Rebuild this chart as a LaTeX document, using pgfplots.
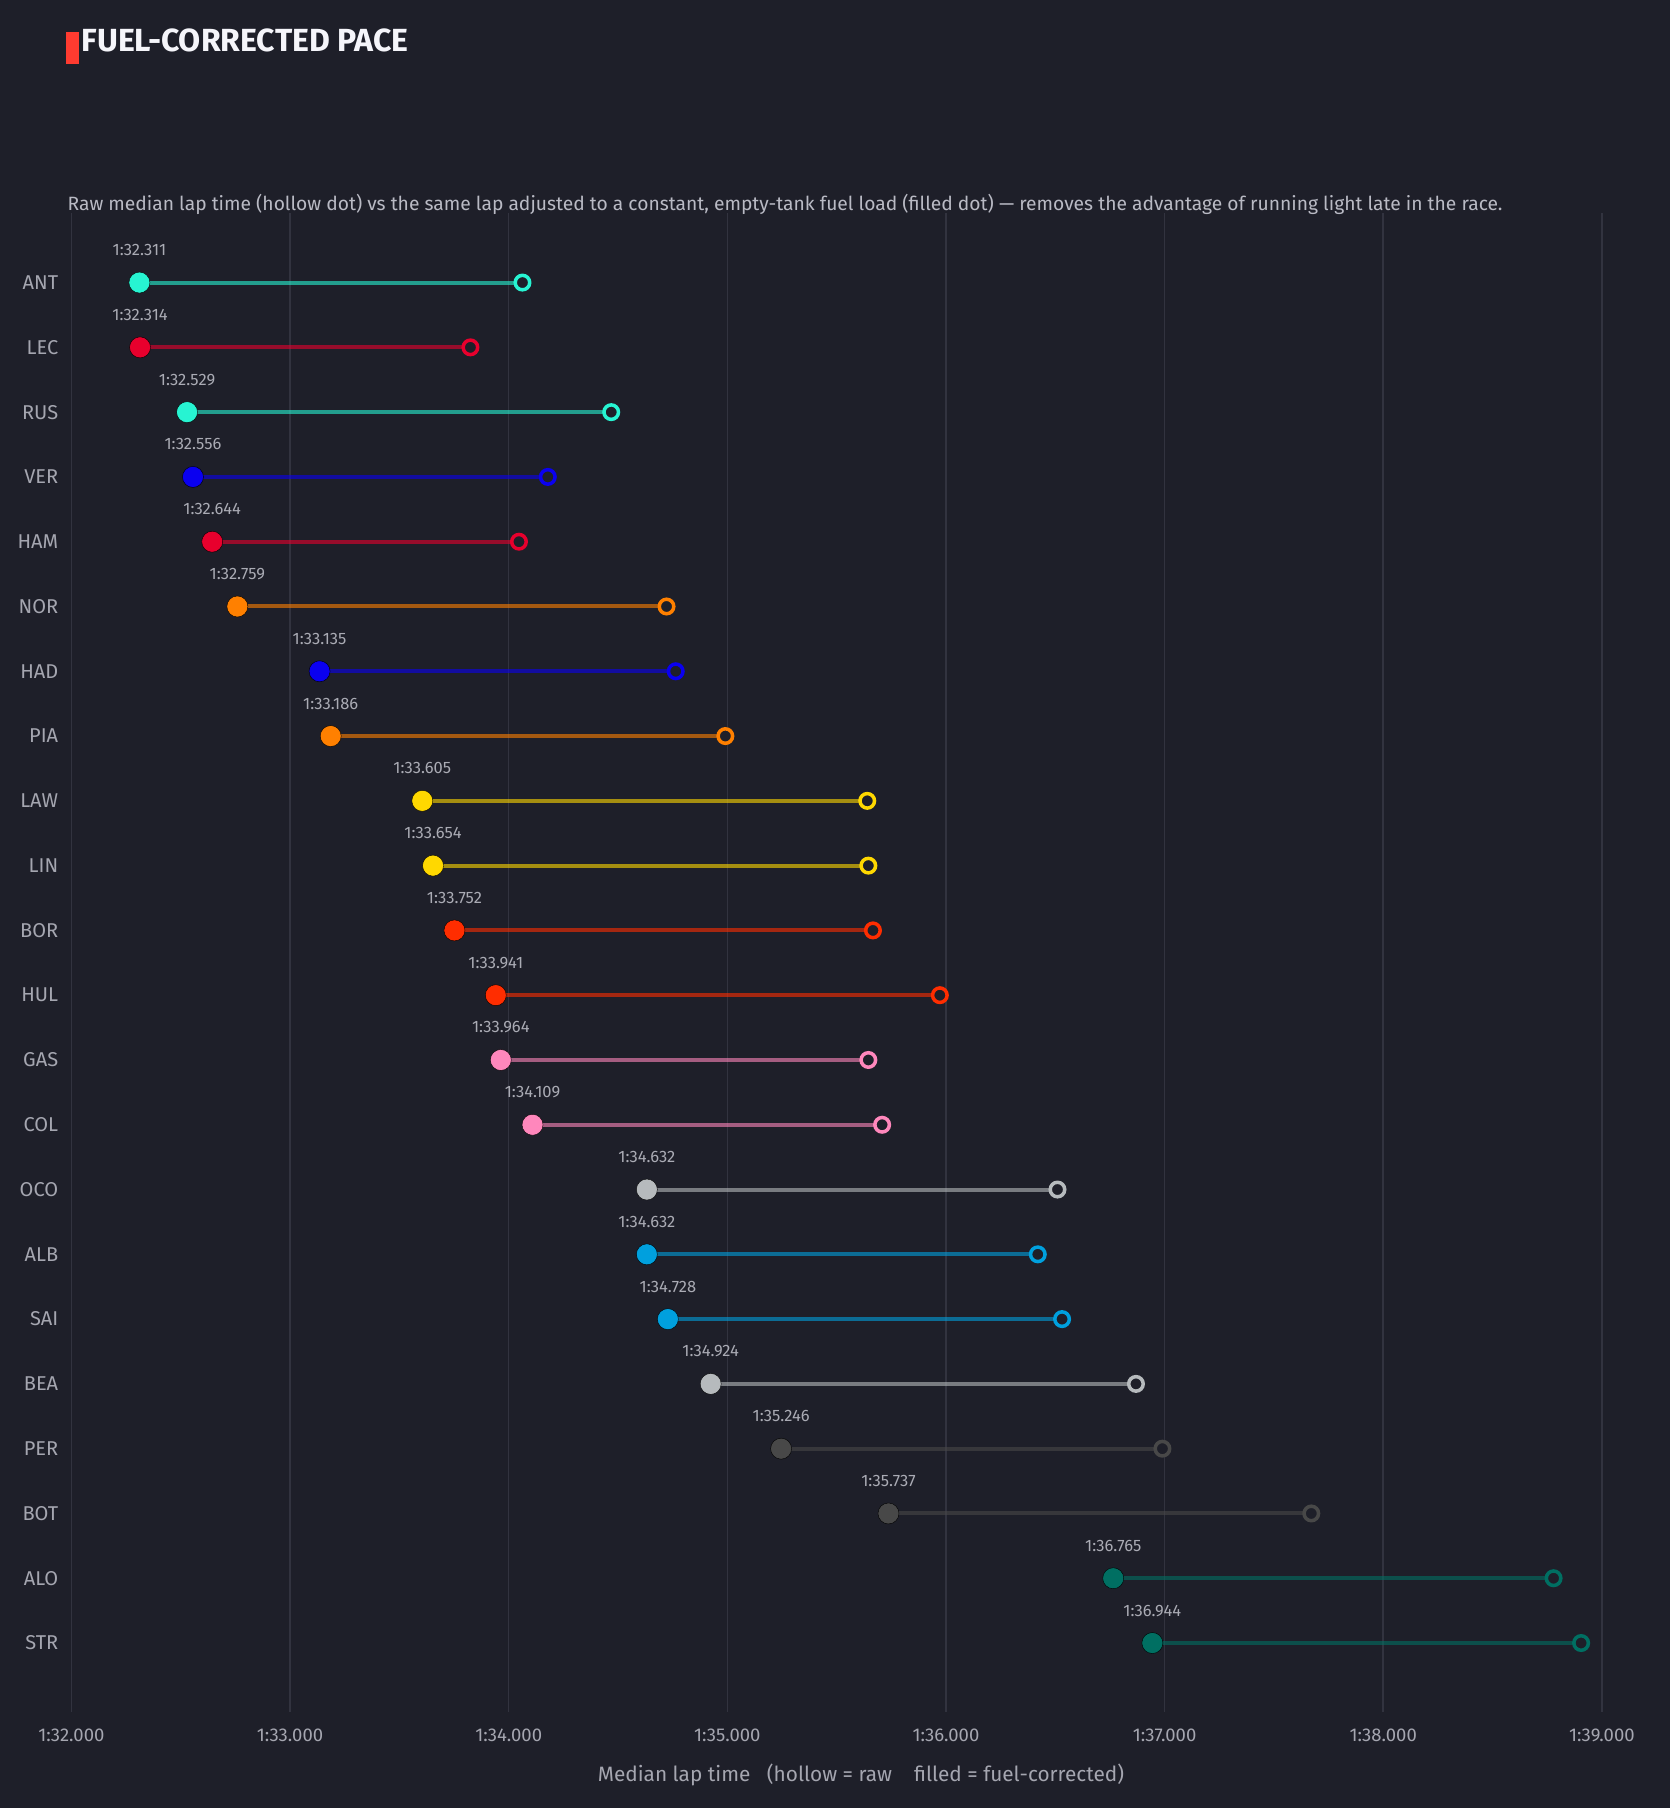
\documentclass[border=0pt]{standalone}
\usepackage{fontspec}
\setmainfont{Fira Sans}
\usepackage{pgfplots}
\pgfplotsset{compat=1.18}

\definecolor{bgc}{RGB}{30,31,41}
\definecolor{gridc}{RGB}{50,51,63}
\definecolor{tickc}{RGB}{165,166,176}
\definecolor{subc}{RGB}{185,186,196}
\definecolor{valc}{RGB}{170,171,180}
\definecolor{titlec}{RGB}{245,245,250}
\definecolor{barc}{RGB}{255,59,48}

% team colours
\definecolor{merc}{HTML}{27F4D2}
\definecolor{ferrari}{HTML}{E8002D}
\definecolor{rbblue}{HTML}{0A00F0}
\definecolor{mcl}{HTML}{FF8000}
\definecolor{rbyellow}{HTML}{FFD800}
\definecolor{sauber}{HTML}{FF2D00}
\definecolor{alpine}{HTML}{FF87BC}
\definecolor{haas}{HTML}{B6BABD}
\definecolor{williams}{HTML}{00A0DE}
\definecolor{cadillac}{HTML}{484848}
\definecolor{aston}{HTML}{006F62}

% one row: index, fuel-corrected time, raw time, colour, label
\newcommand{\driver}[5]{%
  \addplot[draw=#4, draw opacity=0.6, line width=4pt, no marks]
    coordinates {(#2,#1) (#3,#1)};
  \addplot[only marks, mark=*, mark size=7.25pt,
    mark options={draw=#4, fill=bgc, line width=3.5pt}]
    coordinates {(#3,#1)};
  \addplot[only marks, mark=*, mark size=10.5pt,
    mark options={draw=none, fill=#4},
    nodes near coords, point meta=explicit symbolic]
    coordinates {(#2,#1) [#5]};
}

\begin{document}
\begin{tikzpicture}[x=1pt,y=1pt]
\fill[bgc] (0,0) rectangle (1670,1808);
\useasboundingbox (0,0) rectangle (1670,1808);

% title with accent bar
\fill[barc] (66,1744) rectangle (79,1776);
\node[anchor=base west, inner sep=0pt, text=titlec, font=\fontsize{32}{38}\selectfont\bfseries]
  at (81.5,1756) {FUEL-CORRECTED PACE};

% subtitle
\node[anchor=base west, inner sep=0pt, text=subc, font=\fontsize{19.25}{23}\selectfont]
  at (67.5,1597.3) {Raw median lap time (hollow dot) vs the same lap adjusted to a constant, empty-tank fuel load (filled dot) — removes the advantage of running light late in the race.};

\begin{axis}[
  at={(71.4pt,96pt)}, anchor=south west,
  scale only axis, width=1530.6pt, height=1499pt,
  xmin=92, xmax=99, ymin=-1.074, ymax=22.065,
  y dir=reverse,
  axis line style={draw=none},
  major tick length=0pt,
  xtick={92,93,94,95,96,97,98,99},
  xticklabels={1:32.000,1:33.000,1:34.000,1:35.000,1:36.000,1:37.000,1:38.000,1:39.000},
  ytick={0,...,21},
  yticklabels={ANT,LEC,RUS,VER,HAM,NOR,HAD,PIA,LAW,LIN,BOR,HUL,GAS,COL,OCO,ALB,SAI,BEA,PER,BOT,ALO,STR},
  xmajorgrids, ymajorgrids=false,
  major grid style={draw=gridc, line width=1.6pt},
  xticklabel style={anchor=base, inner sep=0pt, yshift=-29.7pt, text=tickc, font=\fontsize{18.5}{22}\selectfont},
  yticklabel style={anchor=east, inner sep=0pt, xshift=-13pt, text=tickc, font=\fontsize{20}{24}\selectfont},
  every node near coord/.append style={anchor=base, inner sep=0pt, yshift=27pt, text=valc, font=\fontsize{16.5}{19}\selectfont},
  clip=false,
]
\driver{0}{92.311}{94.063}{merc}{1:32.311}
\driver{1}{92.314}{93.825}{ferrari}{1:32.314}
\driver{2}{92.529}{94.469}{merc}{1:32.529}
\driver{3}{92.556}{94.179}{rbblue}{1:32.556}
\driver{4}{92.644}{94.047}{ferrari}{1:32.644}
\driver{5}{92.759}{94.722}{mcl}{1:32.759}
\driver{6}{93.135}{94.764}{rbblue}{1:33.135}
\driver{7}{93.186}{94.991}{mcl}{1:33.186}
\driver{8}{93.605}{95.640}{rbyellow}{1:33.605}
\driver{9}{93.654}{95.645}{rbyellow}{1:33.654}
\driver{10}{93.752}{95.666}{sauber}{1:33.752}
\driver{11}{93.941}{95.972}{sauber}{1:33.941}
\driver{12}{93.964}{95.645}{alpine}{1:33.964}
\driver{13}{94.109}{95.708}{alpine}{1:34.109}
\driver{14}{94.632}{96.510}{haas}{1:34.632}
\driver{15}{94.632}{96.420}{williams}{1:34.632}
\driver{16}{94.728}{96.531}{williams}{1:34.728}
\driver{17}{94.924}{96.869}{haas}{1:34.924}
\driver{18}{95.246}{96.990}{cadillac}{1:35.246}
\driver{19}{95.737}{97.671}{cadillac}{1:35.737}
\driver{20}{96.765}{98.779}{aston}{1:36.765}
\driver{21}{96.944}{98.905}{aston}{1:36.944}
\end{axis}

% axis title
\node[anchor=base, inner sep=0pt, text=tickc, font=\fontsize{20.8}{25}\selectfont]
  at (861,26) {Median lap time\ \ \ (hollow = raw\ \ \ \ filled = fuel-corrected)};
\end{tikzpicture}
\end{document}
